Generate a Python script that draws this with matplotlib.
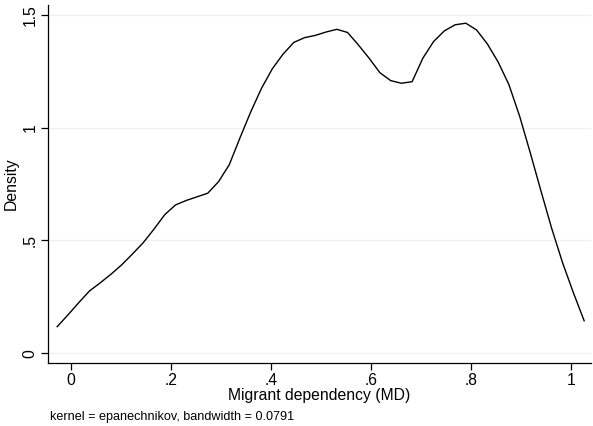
import matplotlib
matplotlib.use("Agg")
import matplotlib.pyplot as plt

plt.rcParams['font.family'] = ['Liberation Sans', 'DejaVu Sans']

# Kernel density estimate evaluated on a grid of 50 points
md_grid = [-0.0270, -0.0055, 0.0160, 0.0375, 0.0590, 0.0805, 0.1021, 0.1236,
           0.1451, 0.1666, 0.1881, 0.2096, 0.2311, 0.2526, 0.2741, 0.2956,
           0.3171, 0.3387, 0.3602, 0.3817, 0.4032, 0.4247, 0.4462, 0.4677,
           0.4892, 0.5107, 0.5322, 0.5537, 0.5753, 0.5968, 0.6183, 0.6398,
           0.6613, 0.6828, 0.7043, 0.7258, 0.7473, 0.7688, 0.7903, 0.8118,
           0.8334, 0.8549, 0.8764, 0.8979, 0.9194, 0.9409, 0.9624, 0.9839,
           1.0054, 1.0269]
density = [0.118, 0.170, 0.224, 0.276, 0.312, 0.350, 0.392, 0.440,
           0.490, 0.550, 0.614, 0.657, 0.677, 0.693, 0.709, 0.760,
           0.835, 0.955, 1.070, 1.174, 1.260, 1.325, 1.377, 1.398,
           1.408, 1.423, 1.435, 1.421, 1.366, 1.307, 1.243, 1.208,
           1.196, 1.203, 1.307, 1.381, 1.428, 1.455, 1.462, 1.432,
           1.370, 1.290, 1.190, 1.050, 0.886, 0.716, 0.550, 0.400,
           0.268, 0.144]

x_ticks = [0, 0.2, 0.4, 0.6, 0.8, 1.0]
x_ticklabels = ['0', '.2', '.4', '.6', '.8', '1']
y_ticks = [0, 0.5, 1.0, 1.5]
y_ticklabels = ['0', '.5', '1', '1.5']

W, H = 593, 426
fig = plt.figure(figsize=(W / 100, H / 100), dpi=100)
left, right, top, bottom = 48, 591, 4.7, 363
ax = fig.add_axes([left / W, 1 - bottom / H, (right - left) / W, (bottom - top) / H])

ax.plot(md_grid, density, color='black', lw=1.0, solid_joinstyle='miter')

ax.set_xlim(-0.0454, 1.0406)
ax.set_ylim(-0.043, 1.544)

fs = 11.3
ax.set_yticks(y_ticks)
ax.set_yticklabels(y_ticklabels, rotation=90, va='center', fontsize=fs)
ax.set_xticks(x_ticks)
ax.set_xticklabels(x_ticklabels, fontsize=fs)
ax.tick_params(axis='both', direction='out', length=5, width=0.9, color='black', pad=2.5)

ax.grid(axis='y', color='#eaf2f3', lw=0.9)
ax.set_axisbelow(True)
for s in ('top', 'right'):
    ax.spines[s].set_visible(False)
for s in ('left', 'bottom'):
    ax.spines[s].set_linewidth(0.9)

ax.set_xlabel('Migrant dependency (MD)', fontsize=fs, labelpad=0)
ax.set_ylabel('Density', fontsize=fs, labelpad=3)

fig.text(50 / W, 1 - 416.7 / H, 'kernel = epanechnikov, bandwidth = 0.0791',
         fontsize=9.1, ha='left', va='center')

fig.savefig('out.png', dpi=100, facecolor='white')
